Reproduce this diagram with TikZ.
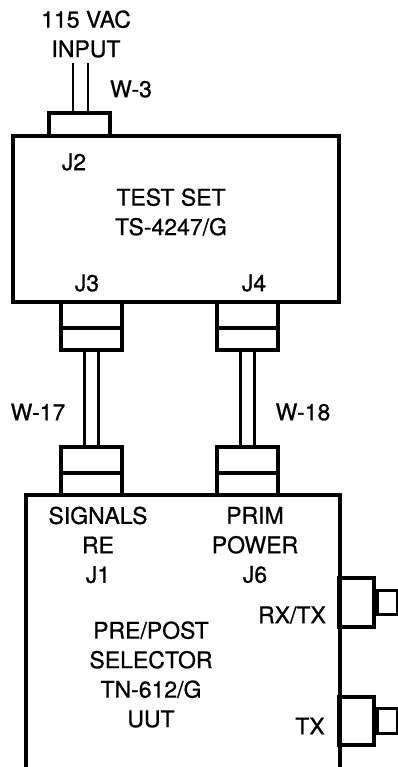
\documentclass[tikz,border=0pt]{standalone}
\usepackage{fontspec}
\setmainfont{TeX Gyre Heros}
\newfontfamily\lblfont[FakeBold=0.8]{TeX Gyre Heros}
\usepackage{tikz}
\usetikzlibrary{positioning}

\begin{document}
\begin{tikzpicture}[x=1pt, y=-1pt,
  every node/.style={font=\lblfont\fontsize{23}{29.5}\selectfont, align=center, inner sep=0pt},
  unit/.style={draw, line width=3.2pt},
  plug/.style={draw, line width=3.2pt, minimum width=61pt, minimum height=48pt},
  jack/.style={draw, line width=3.2pt},
  cable/.style={line width=2.2pt}]
\useasboundingbox (0,0) rectangle (398,767);
\clip (0,0) rectangle (398,767);
% Test set
\node[unit, minimum width=326pt, minimum height=166pt] (testset) at (176,219) {};
\node (tslbl) at (171,212) {TEST SET\\TS-4247/G};
\node (j2lbl) at (74,162) {J2};
\node (j3lbl) at (87,283) {J3};
\node (j4lbl) at (254,283) {J4};
% Input cable W-3
\node[plug, minimum height=23pt] (j2plug) at (79.5,124.5) {};
\coordinate (mains) at (80.5,63);
\draw[cable] ([xshift=-7.5pt]mains) -- ([xshift=-6.5pt]j2plug.north);
\draw[cable] ([xshift=7.5pt]mains) -- ([xshift=8.5pt]j2plug.north);
\node (inlbl) at (86,34) {115 VAC\\INPUT};
\node (w3lbl) at (131,89) {W-3};
% Plugs on both ends of W-17 and W-18
\foreach \name/\px/\py in {j3plug/91.5/326, j4plug/247.5/326, j1plug/91.5/471, j6plug/247.5/471} {
  \node[plug] (\name) at (\px,\py) {};
  \draw[line width=3.2pt] ([yshift=-2pt]\name.west) -- ([yshift=-2pt]\name.east);
}
\foreach \a/\b in {j3plug/j1plug, j4plug/j6plug} {
  \draw[cable] ([xshift=-7pt]\a.south) -- ([xshift=-7pt]\b.north);
  \draw[cable] ([xshift=7pt]\a.south) -- ([xshift=7pt]\b.north);
}
\node (w17lbl) at (38,412) {W-17};
\node (w18lbl) at (303,412) {W-18};
% Unit under test (runs off the bottom)
\node[unit, minimum width=314pt, minimum height=320pt] (uut) at (183,655) {};
\node (j1lbl) at (98,545) {SIGNALS\\RE\\J1};
\node (j6lbl) at (255,545) {PRIM\\POWER\\J6};
\node (uutlbl) at (151,674.5) {PRE/POST\\SELECTOR\\TN-612/G\\UUT};
% RF jacks on the right side
\node[jack, minimum width=35pt, minimum height=49pt] (rxjack) at (356.5,602.5) {};
\node[jack, minimum width=20pt, minimum height=24pt, right=0pt of rxjack] (rxtip) {};
\node[jack, minimum width=35pt, minimum height=48pt] (txjack) at (356.5,721) {};
\node[jack, minimum width=20pt, minimum height=25pt, right=0pt of txjack] (txtip) {};
\node (rxlbl) at (292,615) {RX/TX};
\node (txlbl) at (310,726) {TX};
\end{tikzpicture}
\end{document}
